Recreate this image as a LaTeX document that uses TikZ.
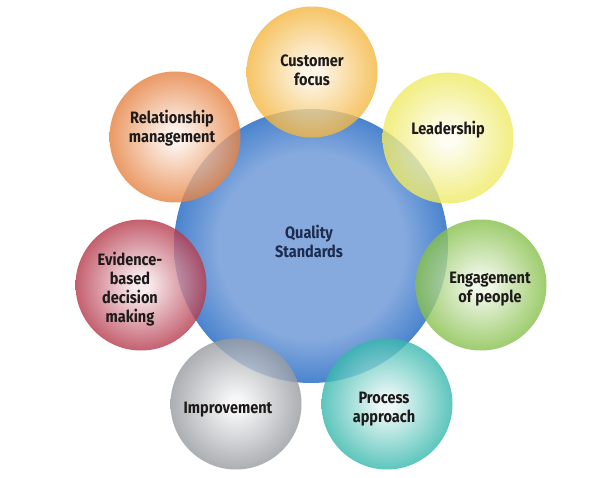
\documentclass[tikz,border=0pt]{standalone}
\usepackage{fontspec}
\setmainfont{Fira Sans}[BoldFont={Fira Sans Bold}]
\newfontfamily\lblfont{Fira Sans}[FakeStretch=0.88,BoldFont={Fira Sans Bold}]
\definecolor{cfO}{HTML}{F4B63F}
\definecolor{ldO}{HTML}{EFEA62}
\definecolor{enO}{HTML}{86C04A}
\definecolor{prO}{HTML}{35B8AC}
\definecolor{imO}{HTML}{979BA0}
\definecolor{evO}{HTML}{B6394C}
\definecolor{reO}{HTML}{E6813F}
\definecolor{qsO}{HTML}{4A84CE}
\definecolor{qsI}{HTML}{86AADE}
\definecolor{txt}{HTML}{1E1A1A}
\definecolor{qtxt}{HTML}{1C2B4E}
\colorlet{bubin}{white}
\colorlet{bubout}{gray}
\pgfdeclareradialshading[bubin,bubout]{bub}{\pgfpointorigin}{%
  color(0bp)=(bubin); color(3bp)=(bubin); color(25bp)=(bubout); color(50bp)=(bubout)}
\pgfdeclareradialshading[qsI,qsO]{qsshade}{\pgfpointorigin}{%
  color(0bp)=(qsI); color(17bp)=(qsI); color(25bp)=(qsO); color(50bp)=(qsO)}
\begin{document}
\begin{tikzpicture}[x=1pt,y=-1pt,
  bubble/.style 2 args={circle,minimum size=131pt,inner sep=0pt,
     /utils/exec={\colorlet{bubin}{#1}\colorlet{bubout}{#2}},shading=bub,
     fill opacity=0.8,draw=none},
  lbl/.style={font=\lblfont\bfseries\fontsize{16.5}{19}\selectfont,text=txt,
     align=center,inner sep=0pt}]
\useasboundingbox[fill=white] (0,0) rectangle (612,478);
% central circle
\node[circle,minimum size=274pt,inner sep=0pt,shading=qsshade] (qs) at (311,246) {};
% outer circles
\node[bubble={cfO!15}{cfO}] (cf) at (312,72) {};
\node[bubble={ldO!10}{ldO}] (ld) at (448,138) {};
\node[bubble={enO!15}{enO}] (en) at (481,285) {};
\node[bubble={prO!12}{prO}] (pr) at (387,404) {};
\node[bubble={imO!10}{imO}] (im) at (236,404) {};
\node[bubble={evO!12}{evO}] (ev) at (141,285) {};
\node[bubble={reO!12}{reO}] (re) at (175,137) {};
% labels
\node[lbl,text=qtxt] (tqs) at (309,241) {Quality\\Standards};
\node[lbl] (tcf) at (312,70) {Customer\\focus};
\node[lbl] (tld) at (448,130) {Leadership};
\node[lbl] (ten) at (490,289) {Engagement\\of people};
\node[lbl] (tpr) at (384,409) {Process\\approach};
\node[lbl] (tim) at (228,410) {Improvement};
\node[lbl] (tev) at (130,289) {Evidence-\\based\\decision\\making};
\node[lbl] (tre) at (172,128) {Relationship\\management};
\end{tikzpicture}
\end{document}
